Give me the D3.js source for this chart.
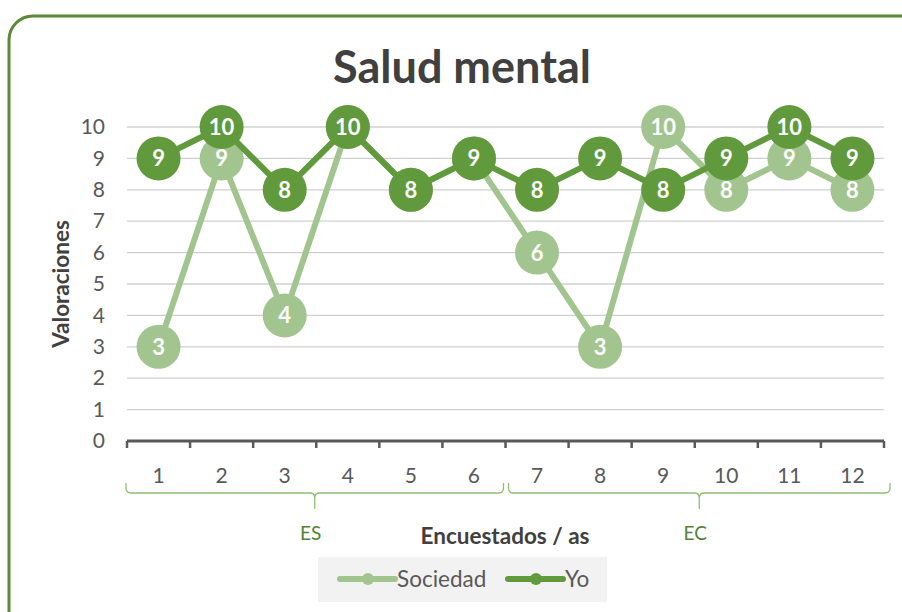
<!DOCTYPE html>
<html>
<head>
<meta charset="utf-8">
<script src="https://cdn.jsdelivr.net/npm/d3@7"></script>
<style>
  html, body { margin: 0; padding: 0; background: #fff; }
  svg { display: block; font-family: Lato, "Open Sans", sans-serif; }
</style>
</head>
<body>
<svg id="chart" width="902" height="612"></svg>
<script>
// Respondents along the x axis, grouped in two blocks
const categories = ["1","2","3","4","5","6","7","8","9","10","11","12"];
const groups = [
  { name: "ES", from: 0, to: 5 },
  { name: "EC", from: 6, to: 11 }
];
// Ratings per respondent
const sociedad = [3, 9, 4, 10, 8, 9, 6, 3, 10, 8, 9, 8];
const yo       = [9, 10, 8, 10, 8, 9, 8, 9, 8, 9, 10, 9];
const yTicks = [0,1,2,3,4,5,6,7,8,9,10];

const series = [
  { name: "Sociedad", values: sociedad, color: "#a2c58f" },
  { name: "Yo",       values: yo,       color: "#609a3c" }
];

const svg = d3.select("#chart");
const W = 902, H = 612;

// Outer rounded frame
svg.append("rect")
  .attr("x", 9).attr("y", 16)
  .attr("width", W + 20).attr("height", H + 20)
  .attr("rx", 24).attr("ry", 24)
  .attr("fill", "#fff")
  .attr("stroke", "#5a8a36").attr("stroke-width", 3);

const plot = { left: 127, right: 884, top: 127, bottom: 441 };

const x = d3.scaleBand()
  .domain(categories)
  .range([plot.left, plot.right])
  .padding(0);

const y = d3.scaleLinear()
  .domain([0, 10])
  .range([plot.bottom, plot.top]);

const cx = c => x(c) + x.bandwidth() / 2;

// Title
svg.append("text")
  .attr("x", 462).attr("y", 83)
  .attr("text-anchor", "middle")
  .attr("font-size", 45).attr("font-weight", "bold")
  .attr("fill", "#404040")
  .text("Salud mental");

// Horizontal gridlines
svg.append("g")
  .selectAll("line")
  .data(yTicks.filter(d => d > 0))
  .join("line")
  .attr("x1", plot.left).attr("x2", plot.right)
  .attr("y1", d => y(d)).attr("y2", d => y(d))
  .attr("stroke", "#d0d0d0").attr("stroke-width", 1.3);

// Y axis labels
const yAxis = d3.axisLeft(y).tickValues(yTicks).tickSize(0).tickPadding(12);
const gy = svg.append("g").attr("transform", `translate(${plot.left - 10},0)`).call(yAxis);
gy.select(".domain").remove();
gy.selectAll("text")
  .attr("font-size", 21).attr("fill", "#595959")
  .attr("font-family", "Lato, 'Open Sans', sans-serif");

// X axis baseline with boundary ticks
const gx = svg.append("g").attr("transform", `translate(0,${plot.bottom})`);
gx.append("line")
  .attr("x1", plot.left).attr("x2", plot.right)
  .attr("stroke", "#595959").attr("stroke-width", 3);
const bounds = categories.map(c => x(c)).concat([plot.right]);
gx.selectAll("line.tick")
  .data(bounds)
  .join("line")
  .attr("class", "tick")
  .attr("x1", d => d).attr("x2", d => d)
  .attr("y1", 0).attr("y2", 7)
  .attr("stroke", "#595959").attr("stroke-width", 2.5);
gx.selectAll("text")
  .data(categories)
  .join("text")
  .attr("x", d => cx(d)).attr("y", 42)
  .attr("text-anchor", "middle")
  .attr("font-size", 21).attr("fill", "#595959")
  .text(d => d);

// Group braces below the category labels
const braceTop = 483, braceY = 493, braceTip = 509;
groups.forEach((g, i) => {
  const x0 = x(categories[g.from]) - (i === 0 ? 1 : -3);
  const x1 = x(categories[g.to]) + x.bandwidth() + (i === 0 ? -2 : 6);
  const mid = (x0 + x1) / 2;
  const r = 5;
  const p = d3.path();
  p.moveTo(x0, braceTop);
  p.lineTo(x0, braceY - r);
  p.quadraticCurveTo(x0, braceY, x0 + r, braceY);
  p.lineTo(mid - r, braceY);
  p.quadraticCurveTo(mid, braceY, mid, braceY + r);
  p.lineTo(mid, braceTip);
  p.moveTo(mid, braceY + r);
  p.quadraticCurveTo(mid, braceY, mid + r, braceY);
  p.lineTo(x1 - r, braceY);
  p.quadraticCurveTo(x1, braceY, x1, braceY - r);
  p.lineTo(x1, braceTop);
  svg.append("path")
    .attr("d", p.toString())
    .attr("fill", "none")
    .attr("stroke", "#8fbf70").attr("stroke-width", 1.3);
  svg.append("text")
    .attr("x", mid - 4).attr("y", 540)
    .attr("text-anchor", "middle")
    .attr("font-size", 19).attr("fill", "#548235")
    .text(g.name);
});

// Axis titles
svg.append("text")
  .attr("x", 505).attr("y", 544)
  .attr("text-anchor", "middle")
  .attr("font-size", 22.5).attr("font-weight", "bold")
  .attr("fill", "#404040")
  .text("Encuestados / as");

svg.append("text")
  .attr("transform", `translate(69,284) rotate(-90)`)
  .attr("text-anchor", "middle")
  .attr("font-size", 22.5).attr("font-weight", "bold")
  .attr("fill", "#404040")
  .text("Valoraciones");

// Series: lines, markers, value labels
const line = d3.line()
  .x((d, i) => cx(categories[i]))
  .y(d => y(d));

series.forEach(s => {
  const g = svg.append("g");
  g.append("path")
    .attr("d", line(s.values))
    .attr("fill", "none")
    .attr("stroke", s.color).attr("stroke-width", 6)
    .attr("stroke-linejoin", "round");
  g.selectAll("circle")
    .data(s.values)
    .join("circle")
    .attr("cx", (d, i) => cx(categories[i]))
    .attr("cy", d => y(d))
    .attr("r", 22)
    .attr("fill", s.color);
  g.selectAll("text")
    .data(s.values)
    .join("text")
    .attr("x", (d, i) => cx(categories[i]))
    .attr("y", d => y(d) + 8)
    .attr("text-anchor", "middle")
    .attr("font-size", 22).attr("font-weight", "bold")
    .attr("fill", "#fff")
    .text(d => d);
});

// Legend
const lg = svg.append("g");
lg.append("rect")
  .attr("x", 318).attr("y", 557)
  .attr("width", 289).attr("height", 45)
  .attr("fill", "#f2f2f2");
const legendItems = [
  { s: series[0], x0: 340 },
  { s: series[1], x0: 508 }
];
legendItems.forEach(it => {
  lg.append("line")
    .attr("x1", it.x0).attr("x2", it.x0 + 55)
    .attr("y1", 579).attr("y2", 579)
    .attr("stroke", it.s.color).attr("stroke-width", 6)
    .attr("stroke-linecap", "round");
  lg.append("circle")
    .attr("cx", it.x0 + 28).attr("cy", 579).attr("r", 6)
    .attr("fill", it.s.color);
  lg.append("text")
    .attr("x", it.x0 + 57).attr("y", 587)
    .attr("font-size", 22.5).attr("fill", "#595959")
    .text(it.s.name);
});
</script>
</body>
</html>
